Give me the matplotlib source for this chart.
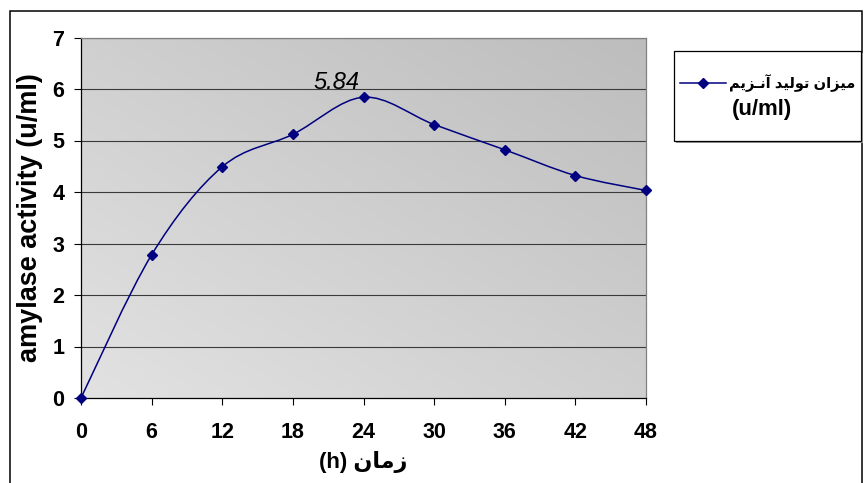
import numpy as np
import matplotlib
matplotlib.use("Agg")
import matplotlib.pyplot as plt
from matplotlib.path import Path
from matplotlib.patches import PathPatch, Rectangle
from matplotlib.lines import Line2D
from matplotlib.colors import LinearSegmentedColormap

# data
hours = [0, 6, 12, 18, 24, 30, 36, 42, 48]
activity = [0, 2.78, 4.49, 5.12, 5.84, 5.31, 4.82, 4.32, 4.03]
peak_label = "5.84"
y_ticks = [0, 1, 2, 3, 4, 5, 6, 7]

# arabic text in visual order with presentation forms (no shaping in matplotlib)
x_label = "(h) \uFEE5\uFE8E\uFEE3\uFEAF"
legend_line1 = ("\uFEE2\uFEF3\uFEB0\u0640\uFEE7\uFE81 "
                "\uFEAA\uFEF4\uFEDF\uFEEE\uFE97 "
                "\uFEE5\uFE8D\uFEB0\uFEF4\uFEE3")
legend_line2 = "(u/ml)"
y_label = "amylase activity (u/ml)"

fonts = ["Liberation Sans", "DejaVu Sans"]
plt.rcParams["font.family"] = fonts
navy = "#000080"

W, H = 864, 483
fig = plt.figure(figsize=(W / 100, H / 100), dpi=100)
fig.patch.set_facecolor("white")
ax = fig.add_axes([81 / W, (H - 398) / H, (646 - 81) / W, (398 - 37.5) / H])

# gradient plot area
g = np.linspace(0, 1, 200)
grad = (g[None, :] + g[::-1, None]) / 2
cmap = LinearSegmentedColormap.from_list("bg", ["#e2e2e2", "#bdbdbd"])
ax.imshow(grad, extent=[0, 1, 0, 1], transform=ax.transAxes, aspect="auto",
          cmap=cmap, zorder=0, interpolation="bilinear")

ax.set_xlim(0, 48)
ax.set_ylim(0, 7)
ax.set_xticks(hours)
ax.set_yticks(y_ticks)
ax.tick_params(axis="both", direction="out", length=5, width=0.8, color="black",
               labelsize=15.5)
ax.tick_params(axis="y", pad=7)
ax.tick_params(axis="x", pad=12)
for lab in ax.get_xticklabels() + ax.get_yticklabels():
    lab.set_fontweight("bold")

for y in y_ticks[1:]:
    ax.axhline(y, color="#3a3a3a", lw=0.8, zorder=1)

ax.spines["left"].set_color("black")
ax.spines["bottom"].set_color("black")
ax.spines["top"].set_color("#808080")
ax.spines["right"].set_color("#808080")
for s in ax.spines.values():
    s.set_linewidth(0.9)

# smoothed line (bezier through the points, like the spreadsheet's smooth line)
pts = np.column_stack([hours, activity]).astype(float)
ext = np.vstack([pts[0], pts, pts[-1]])
verts = [pts[0]]
codes = [Path.MOVETO]
for i in range(len(pts) - 1):
    p0, p1, p2, p3 = ext[i], ext[i + 1], ext[i + 2], ext[i + 3]
    verts += [p1 + (p2 - p0) / 6, p2 - (p3 - p1) / 6, p2]
    codes += [Path.CURVE4] * 3
curve = PathPatch(Path(verts, codes), fill=False, ec=navy, lw=1.1,
                  transform=ax.transData, zorder=3)
ax.add_patch(curve)
ax.plot(hours, activity, ls="none", marker="D", ms=5.6, color=navy,
        mec=navy, zorder=4, clip_on=False)

ax.annotate(peak_label, (hours[4], activity[4]), xytext=(-27, 8),
            textcoords="offset pixels", ha="center", va="baseline",
            fontsize=17, style="italic", color="black")

ax.set_ylabel(y_label, fontsize=19.5, fontweight="bold", labelpad=7)
ax.set_xlabel(x_label, fontsize=16, fontweight="bold", labelpad=6)

# outer chart frame
fig.add_artist(Rectangle((10 / W, -0.1), 852 / W, (H - 11) / H + 0.1,
                         transform=fig.transFigure, fill=False, ec="black", lw=1.1))

# legend box
lx0, ly0, lx1, ly1 = 674, 51, 861, 141
fig.add_artist(Rectangle(((lx0 + 2) / W, (H - ly1 - 2) / H), (lx1 - lx0) / W,
                         (ly1 - ly0) / H, transform=fig.transFigure,
                         fc="#9a9a9a", ec="none"))
box = Rectangle((lx0 / W, (H - ly1) / H), (lx1 - lx0) / W, (ly1 - ly0) / H,
                transform=fig.transFigure, fc="white", ec="black", lw=0.9)
fig.add_artist(box)
fig.add_artist(Line2D([680 / W, 726 / W], [(H - 83) / H] * 2, color=navy, lw=1.1,
                      transform=fig.transFigure))
fig.add_artist(Line2D([703 / W], [(H - 83) / H], ls="none", marker="D", ms=5.6,
                      color=navy, transform=fig.transFigure))
fig.text(729 / W, (H - 83) / H, legend_line1, fontsize=10.5, fontweight="bold",
         ha="left", va="center")
fig.text(732 / W, (H - 110) / H, legend_line2, fontsize=16, fontweight="bold",
         ha="left", va="center")

fig.savefig("out.png", dpi=100)
